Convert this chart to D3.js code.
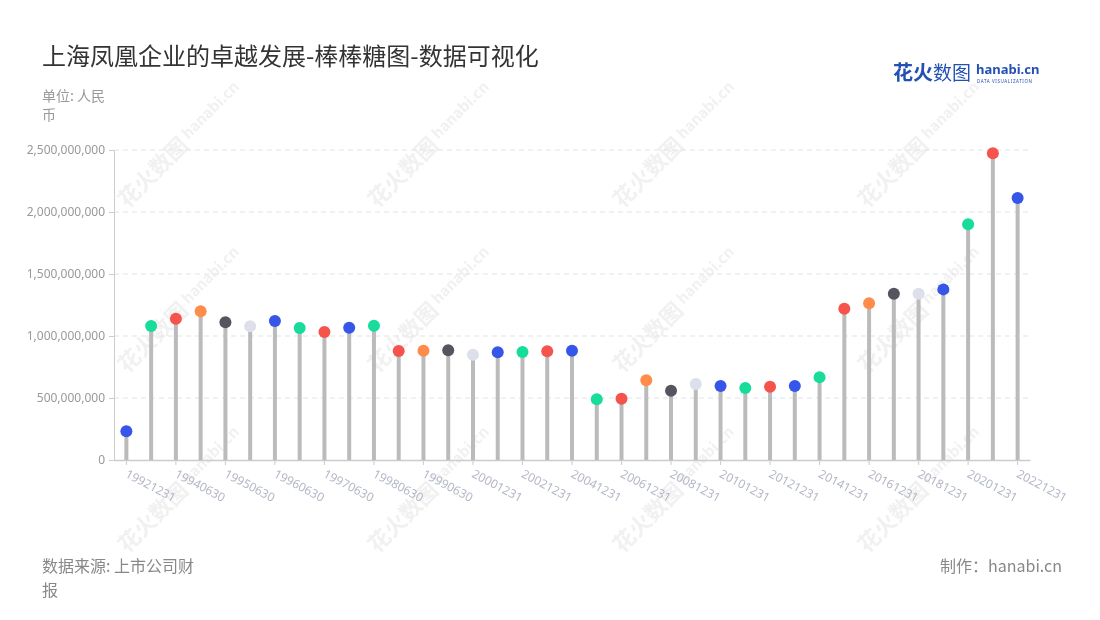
<!DOCTYPE html>
<html><head><meta charset="utf-8">
<script src="https://cdn.jsdelivr.net/npm/d3@7"></script>
<style>
body{margin:0;background:#fff;font-family:"Noto Sans CJK SC","Noto Sans",sans-serif;}
</style></head>
<body><svg id="c" width="1100" height="620"></svg>
<script>
const categories = ["19921231","19931231","19940630","19941231","19950630","19951231","19960630","19961231","19970630","19971231","19980630","19981231","19990630","19991231","20001231","20011231","20021231","20031231","20041231","20051231","20061231","20071231","20081231","20091231","20101231","20111231","20121231","20131231","20141231","20151231","20161231","20171231","20181231","20191231","20201231","20211231","20221231"];
const values = [231e6,1081e6,1140e6,1199e6,1110e6,1078e6,1121e6,1065e6,1032e6,1067e6,1083e6,879e6,881e6,885e6,849e6,869e6,871e6,877e6,881e6,490e6,494e6,643e6,559e6,613e6,597e6,581e6,591e6,597e6,667e6,1220e6,1264e6,1341e6,1341e6,1376e6,1901e6,2473e6,2113e6];
const yTicks = [0,500e6,1000e6,1500e6,2000e6,2500e6];
const palette = ["#3556e8","#17dc9c","#f5534b","#ff8c4a","#55555f","#dde0ea","#3556e8","#17dc9c","#f5534b"];

const svg = d3.select("#c");
const M = {l:114, r:1030, t:150, b:460};
const x = d3.scaleBand().domain(categories).range([M.l, M.r]).padding(0);
const y = d3.scaleLinear().domain([0,2500e6]).range([M.b, M.t]);

// watermarks
const wm = svg.append("g").attr("opacity",0.5);
[[150,175],[400,175],[645,175],[890,175],[150,340],[400,340],[645,340],[890,340],[150,520],[400,520],[645,520],[890,520]].forEach(([cx,cy])=>{
  const g = wm.append("g").attr("transform",`translate(${cx},${cy}) rotate(-45)`);
  g.append("text").attr("x",-40).attr("y",8).attr("font-size",22).attr("font-weight","bold").attr("fill","#e2e2e2").text("花火数图");
  g.append("text").attr("x",52).attr("y",2).attr("font-size",15).attr("font-weight","bold").attr("fill","#e2e2e2").text("hanabi.cn");
});

// grid
svg.append("g").selectAll("line").data(yTicks.filter(d=>d>0)).join("line")
  .attr("x1",M.l).attr("x2",M.r).attr("y1",d=>y(d)).attr("y2",d=>y(d))
  .attr("stroke","#e3e3e3").attr("stroke-dasharray","5,4");

// y axis
const ya = svg.append("g").attr("transform",`translate(${M.l},0)`)
  .call(d3.axisLeft(y).tickValues(yTicks).tickSize(5).tickPadding(4).tickFormat(d3.format(",")));
ya.select(".domain").attr("stroke","#ccc");
ya.selectAll(".tick line").attr("stroke","#ccc");
ya.selectAll("text").attr("fill","#999").attr("font-size",12).attr("font-family","Noto Sans, sans-serif");

// x axis
const xa = svg.append("g").attr("transform",`translate(0,${M.b})`)
  .call(d3.axisBottom(x).tickValues(categories.filter((d,i)=>i%2===0)).tickSize(5).tickSizeOuter(0));
xa.select(".domain").attr("stroke","#ccc").attr("stroke-width",1.5);
xa.selectAll(".tick line").attr("stroke","#ccc");
xa.selectAll("text").attr("fill","#b4b8c6").attr("font-size",12).attr("font-family","Noto Sans, sans-serif")
  .attr("text-anchor","start").attr("x",0).attr("y",0).attr("dy","0.7em").attr("transform","translate(2,9) rotate(28)");

// stems
svg.append("g").selectAll("line").data(values).join("line")
  .attr("x1",(d,i)=>x(categories[i])+x.bandwidth()/2).attr("x2",(d,i)=>x(categories[i])+x.bandwidth()/2)
  .attr("y1",y(0)).attr("y2",d=>y(d)).attr("stroke","#bbbbbb").attr("stroke-width",4);
// dots
svg.append("g").selectAll("circle").data(values).join("circle")
  .attr("cx",(d,i)=>x(categories[i])+x.bandwidth()/2).attr("cy",d=>y(d)).attr("r",6)
  .attr("fill",(d,i)=>palette[i%palette.length]);

// title
svg.append("text").attr("x",42).attr("y",65).attr("font-size",24).attr("fill","#333").text("上海凤凰企业的卓越发展-棒棒糖图-数据可视化");
svg.append("text").attr("x",42).attr("y",101).attr("font-size",14).attr("fill","#999").text("单位: 人民");
svg.append("text").attr("x",42).attr("y",120).attr("font-size",14).attr("fill","#999").text("币");

// footer
svg.append("text").attr("x",42).attr("y",572).attr("font-size",16).attr("fill","#888").text("数据来源: 上市公司财");
svg.append("text").attr("x",42).attr("y",596).attr("font-size",16).attr("fill","#888").text("报");
svg.append("text").attr("x",1062).attr("y",572).attr("font-size",16).attr("fill","#888").attr("text-anchor","end").text("制作：hanabi.cn");

// logo
svg.append("text").attr("x",893).attr("y",80).attr("font-size",20).attr("font-weight","bold").attr("fill","#2350b4").text("花火");
svg.append("text").attr("x",933).attr("y",80).attr("font-size",19).attr("fill","#2350b4").text("数图");
svg.append("text").attr("x",976).attr("y",74).attr("font-size",13).attr("font-weight","bold").attr("fill","#2350b4").attr("font-family","Noto Sans, sans-serif").text("hanabi.cn");
svg.append("text").attr("x",977).attr("y",82.5).attr("font-size",4.5).attr("fill","#2350b4").attr("font-family","Noto Sans, sans-serif").attr("letter-spacing",0.6).text("DATA VISUALIZATION");
</script></body></html>
